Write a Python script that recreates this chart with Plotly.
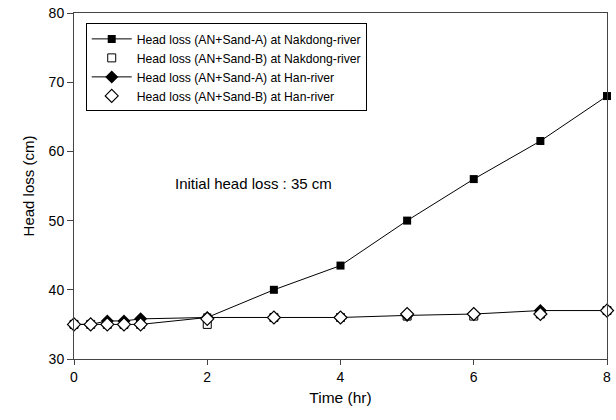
import plotly.graph_objects as go

time_hr = [0, 0.25, 0.5, 0.75, 1, 2, 3, 4, 5, 6, 7, 8]
nakdong_a = [35, 35, 35, 35, 35, 36, 40, 43.5, 50, 56, 61.5, 68]
nakdong_b = [35, 35, 35, 35, 35, 35, 36, 36, 36.2, 36.2, 36.5, 37]
han_a = [35, 35, 35.5, 35.5, 35.8, 36, 36, 36, 36.3, 36.5, 37, 37]
han_b = [35, 35, 35, 35, 35, 35.8, 36, 36, 36.5, 36.5, 36.5, 37]

names = [
    "Head loss (AN+Sand-A) at Nakdong-river",
    "Head loss (AN+Sand-B) at Nakdong-river",
    "Head loss (AN+Sand-A) at Han-river",
    "Head loss (AN+Sand-B) at Han-river",
]

FONT = "Arial, Liberation Sans, sans-serif"
fig = go.Figure()
fig.add_trace(go.Scatter(x=time_hr, y=nakdong_a, name=names[0], mode="lines+markers",
                         line=dict(color="black", width=1), cliponaxis=False,
                         marker=dict(symbol="square", size=8, color="black")))
fig.add_trace(go.Scatter(x=time_hr, y=nakdong_b, name=names[1], mode="markers",
                         cliponaxis=False,
                         marker=dict(symbol="square", size=8, color="white",
                                     line=dict(color="black", width=1))))
fig.add_trace(go.Scatter(x=time_hr, y=han_a, name=names[2], mode="lines+markers",
                         line=dict(color="black", width=1), cliponaxis=False,
                         marker=dict(symbol="diamond", size=10, color="black")))
fig.add_trace(go.Scatter(x=time_hr, y=han_b, name=names[3], mode="markers",
                         cliponaxis=False,
                         marker=dict(symbol="diamond", size=10, color="white",
                                     line=dict(color="black", width=1.2))))

fig.add_annotation(x=2.69, y=55.3, text="Initial head loss : 35 cm", showarrow=False,
                   font=dict(family=FONT, size=15, color="black"))

fig.update_layout(
    width=616, height=420,
    margin=dict(l=74, r=5, t=11, b=61),
    paper_bgcolor="white", plot_bgcolor="white",
    font=dict(family=FONT, size=14, color="black"),
    showlegend=True,
    legend=dict(x=0.022, y=0.97, xanchor="left", yanchor="top",
                bordercolor="black", borderwidth=1, bgcolor="white",
                font=dict(family=FONT, size=12.2, color="black"),
                tracegroupgap=0, itemsizing="trace", itemwidth=40),
    xaxis=dict(range=[0, 8], tickvals=[0, 2, 4, 6, 8], showline=True, linecolor="#444",
               linewidth=1, mirror=True, ticks="outside", ticklen=5, tickcolor="#444",
               showgrid=False, zeroline=False, tickfont=dict(size=14),
               title=dict(text="Time (hr)", font=dict(size=15.5), standoff=8)),
    yaxis=dict(range=[30, 80], tickvals=[30, 40, 50, 60, 70, 80], showline=True,
               linecolor="#444", linewidth=1, mirror=True, ticks="outside", ticklen=6,
               tickcolor="#444", showgrid=False, zeroline=False, tickfont=dict(size=14),
               title=dict(text="Head loss (cm)", font=dict(size=15), standoff=10)),
)

fig.write_html("out.html", post_script="document.body.style.margin='0';",
               config={"displayModeBar": False})
